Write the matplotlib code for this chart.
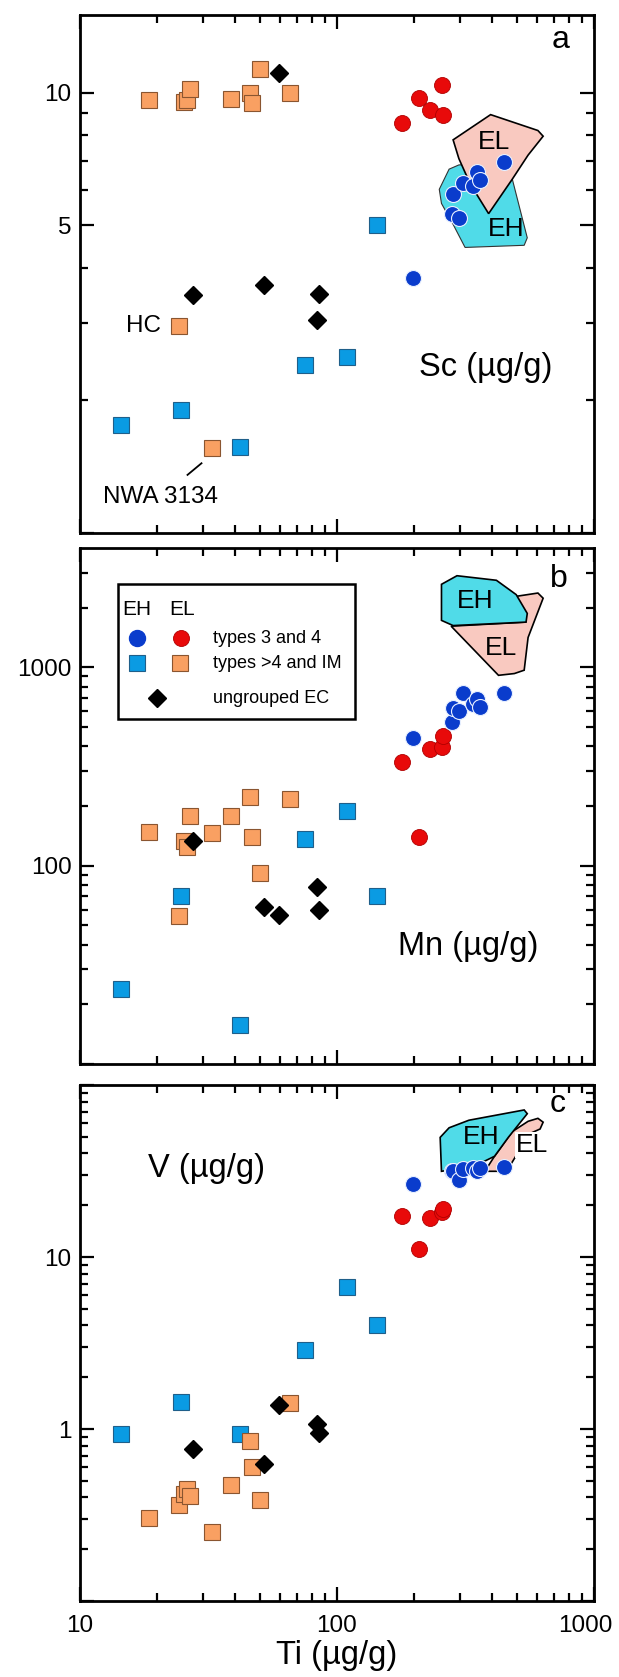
import matplotlib
matplotlib.use("Agg")
import matplotlib.pyplot as plt
from matplotlib.patches import Polygon, Rectangle
from matplotlib.ticker import FixedLocator, NullFormatter, FixedFormatter

plt.rcParams['font.family'] = ['Liberation Sans', 'DejaVu Sans']

# Ti (ug/g) for each group
ti_eh34 = [197, 281, 283, 299, 309, 338, 350, 360, 448]
ti_el34 = [178.6, 208, 230.6, 256.5, 259]
ti_eh4 = [14.5, 24.7, 41.9, 75.3, 108.9, 142.6]
ti_el4 = [18.6, 24.3, 25.5, 26.1, 26.9, 32.7, 38.7, 45.9, 46.8, 50.0, 65.9]
ti_ung = [27.4, 51.8, 59.3, 83.5, 84.9]

# Sc (ug/g)
sc_eh34 = [3.79, 5.31, 5.87, 5.19, 6.24, 6.12, 6.59, 6.33, 6.95]
sc_el34 = [8.55, 9.7, 9.14, 10.4, 8.91]
sc_eh4 = [1.76, 1.90, 1.57, 2.41, 2.51, 5.01]
sc_el4 = [9.61, 2.95, 9.5, 9.6, 10.2, 1.56, 9.65, 9.96, 9.49, 11.3, 9.96]
sc_ung = [3.47, 3.66, 11.1, 3.05, 3.49]

# Mn (ug/g)
mn_eh34 = [441, 533, 626, 601, 745, 657, 691, 630, 739]
mn_el34 = [333, 139, 387, 395, 449]
mn_eh4 = [23.8, 70.6, 15.7, 137, 189, 70.6]
mn_el4 = [148, 55.7, 133, 124, 179, 146, 179, 222, 140, 92, 216]
mn_ung = [133, 62, 56.6, 77.8, 60.1]

# V (ug/g)
v_eh34 = [26.4, 31.5, 31.5, 28.1, 32.3, 32.7, 31.8, 32.7, 33.4]
v_el34 = [17.3, 11.1, 16.9, 18.2, 19.0]
v_eh4 = [0.94, 1.44, 0.935, 2.87, 6.7, 4.04]
v_el4 = [0.303, 0.36, 0.42, 0.45, 0.41, 0.251, 0.472, 0.851, 0.603, 0.388, 1.41]
v_ung = [0.764, 0.627, 1.37, 1.07, 0.95]

# EH / EL fields (Ti, element)
eh_sc = [(250, 6.03), (273, 6.70), (298, 6.85), (390, 6.9), (481, 6.36), (550, 4.68),
         (535, 4.50), (315, 4.45), (283, 5.02), (255, 5.60)]
el_sc = [(283, 7.81), (396, 8.91), (605, 8.20), (634, 7.96), (554, 7.21), (481, 6.36),
         (389, 5.31), (330, 6.2), (298, 7.08)]
eh_mn = [(255, 2624), (293, 2899), (417, 2750), (498, 2328), (550, 1871), (544, 1692),
         (283, 1625), (255, 1726)]
el_mn = [(278, 1614), (425, 912), (490, 931), (535, 968), (554, 1415), (634, 2233),
         (605, 2371), (498, 2282), (544, 1692)]
eh_v = [(252, 49.6), (273, 56.4), (326, 62.4), (535, 71.6), (550, 68.1), (464, 49.6),
        (410, 38.5), (338, 33.4), (255, 31.5)]
el_v = [(410, 38.5), (481, 53.6), (554, 61.5), (605, 64), (634, 60.8), (617, 55.5),
        (560, 52), (481, 35.7), (456, 31.5), (376, 31.5)]

c_eh34 = '#0a3ccc'
c_el34 = '#e80a0a'
c_eh4 = '#0a9be3'
c_el4 = '#f9a062'
c_ehf = '#50dbe8'
c_elf = '#f9c9c0'

fig = plt.figure(figsize=(6.19, 16.77), dpi=100)
left, width = 80 / 619, 514 / 619
ax_a = fig.add_axes([left, 1 - 533 / 1677, width, 518 / 1677])
ax_b = fig.add_axes([left, 1 - 1064 / 1677, width, 516 / 1677])
ax_c = fig.add_axes([left, 1 - 1601 / 1677, width, 516 / 1677])


def scatter_groups(ax, eh34, el34, eh4, el4, ung):
    ax.plot(ti_eh4, eh4, 's', ms=11.5, mfc=c_eh4, mec='#1f5f8a', mew=0.8, ls='none', zorder=4)
    ax.plot(ti_el4, el4, 's', ms=11.5, mfc=c_el4, mec='#8a5530', mew=0.8, ls='none', zorder=4)
    ax.plot(ti_ung, ung, 'D', ms=9, mfc='black', mec='black', ls='none', zorder=5)
    ax.plot(ti_el34, el34, 'o', ms=11.5, mfc=c_el34, mec='#b00000', mew=0.6, ls='none', zorder=5)
    ax.plot(ti_eh34, eh34, 'o', ms=11.5, mfc=c_eh34, mec='#e8f0ff', mew=0.8, ls='none', zorder=6)


def style_axis(ax, ylim, ymajor, yminor, ylabels):
    ax.set_xscale('log')
    ax.set_yscale('log')
    ax.set_xlim(10, 1000)
    ax.set_ylim(*ylim)
    ax.xaxis.set_major_locator(FixedLocator([10, 100, 1000]))
    ax.xaxis.set_minor_locator(FixedLocator([20, 30, 40, 50, 60, 70, 80, 90,
                                             200, 300, 400, 500, 600, 700, 800, 900]))
    ax.xaxis.set_minor_formatter(NullFormatter())
    ax.yaxis.set_major_locator(FixedLocator(ymajor))
    ax.yaxis.set_major_formatter(FixedFormatter(ylabels))
    ax.yaxis.set_minor_locator(FixedLocator(yminor))
    ax.yaxis.set_minor_formatter(NullFormatter())
    ax.tick_params(which='both', direction='in', top=True, right=True, width=1.6)
    ax.tick_params(which='major', length=10, labelsize=17.5, pad=6)
    ax.tick_params(axis='x', which='major', pad=10)
    ax.tick_params(which='minor', length=6)
    for s in ax.spines.values():
        s.set_linewidth(2)


# panel a: Sc
ax = ax_a
ax.add_patch(Polygon(eh_sc, closed=True, fc=c_ehf, ec='#333333', lw=0.8, zorder=1))
ax.add_patch(Polygon(el_sc, closed=True, fc=c_elf, ec='black', lw=1.2, zorder=2))
scatter_groups(ax, sc_eh34, sc_el34, sc_eh4, sc_el4, sc_ung)
style_axis(ax, (1, 15), [1, 5, 10], [2, 3, 4, 6, 7, 8, 9], ['', '5', '10'])
ax.set_xticklabels([])
ax.text(410, 7.74, 'EL', fontsize=19, ha='center', va='center', zorder=3)
ax.text(456, 4.90, 'EH', fontsize=19, ha='center', va='center', zorder=3)
ax.text(380, 2.38, 'Sc (µg/g)', fontsize=23.5, ha='center', va='center')
ax.text(20.7, 2.95, 'HC', fontsize=17.5, ha='right', va='center')
ax.text(20.6, 1.205, 'NWA 3134', fontsize=17.5, ha='center', va='center')
ax.plot([26.2, 29.7], [1.355, 1.44], color='black', lw=1.3)
ax.text(0.934, 0.952, 'a', transform=ax.transAxes, fontsize=23, ha='center', va='center')

# panel b: Mn
ax = ax_b
ax.add_patch(Polygon(el_mn, closed=True, fc=c_elf, ec='black', lw=1.2, zorder=1))
ax.add_patch(Polygon(eh_mn, closed=True, fc=c_ehf, ec='black', lw=1.2, zorder=2))
scatter_groups(ax, mn_eh34, mn_el34, mn_eh4, mn_el4, mn_ung)
style_axis(ax, (10, 4000), [10, 100, 1000], [20, 30, 40, 50, 60, 70, 80, 90,
                                             200, 300, 400, 500, 600, 700, 800, 900,
                                             2000, 3000], ['', '100', '1000'])
ax.set_xticklabels([])
ax.text(344, 2166, 'EH', fontsize=19, ha='center', va='center', zorder=3)
ax.text(435, 1255, 'EL', fontsize=19, ha='center', va='center', zorder=3)
ax.text(325, 39.2, 'Mn (µg/g)', fontsize=23.5, ha='center', va='center')
ax.text(0.932, 0.94, 'b', transform=ax.transAxes, fontsize=23, ha='center', va='center')

# legend box
ax.add_patch(Rectangle((0.074, 0.669), 0.461, 0.261, transform=ax.transAxes,
                       fc='white', ec='black', lw=1.8, zorder=7))
tr = ax.transAxes
ax.text(0.111, 0.881, 'EH', transform=tr, fontsize=15, ha='center', va='center', zorder=8)
ax.text(0.198, 0.881, 'EL', transform=tr, fontsize=15, ha='center', va='center', zorder=8)
ax.plot([0.110], [0.825], 'o', ms=11.5, mfc=c_eh34, mec=c_eh34, transform=tr, zorder=8, clip_on=False)
ax.plot([0.197], [0.825], 'o', ms=11.5, mfc=c_el34, mec='#b00000', mew=0.6, transform=tr, zorder=8, clip_on=False)
ax.plot([0.110], [0.777], 's', ms=11, mfc=c_eh4, mec='#1f5f8a', mew=0.8, transform=tr, zorder=8, clip_on=False)
ax.plot([0.195], [0.777], 's', ms=11, mfc=c_el4, mec='#8a5530', mew=0.8, transform=tr, zorder=8, clip_on=False)
ax.plot([0.150], [0.709], 'D', ms=9, mfc='black', mec='black', transform=tr, zorder=8, clip_on=False)
ax.text(0.259, 0.825, 'types 3 and 4', transform=tr, fontsize=13, ha='left', va='center', zorder=8)
ax.text(0.259, 0.777, 'types >4 and IM', transform=tr, fontsize=13, ha='left', va='center', zorder=8)
ax.text(0.259, 0.709, 'ungrouped EC', transform=tr, fontsize=13, ha='left', va='center', zorder=8)

# panel c: V
ax = ax_c
ax.add_patch(Polygon(el_v, closed=True, fc=c_elf, ec='black', lw=1.2, zorder=1))
ax.add_patch(Polygon(eh_v, closed=True, fc=c_ehf, ec='black', lw=1.2, zorder=2))
scatter_groups(ax, v_eh34, v_el34, v_eh4, v_el4, v_ung)
style_axis(ax, (0.1, 100), [0.1, 1, 10, 100], [0.2, 0.3, 0.4, 0.5, 0.6, 0.7, 0.8, 0.9,
                                               2, 3, 4, 5, 6, 7, 8, 9,
                                               20, 30, 40, 50, 60, 70, 80, 90],
           ['', '1', '10', ''])
# last label is pulled inside the figure edge
ax.set_xticklabels(['10', '100', ''])
ax.annotate('1000', xy=(1000, 0), xycoords=('data', 'axes fraction'),
            xytext=(-6.5, -10), textcoords='offset points',
            ha='center', va='top', fontsize=17.5)
ax.text(0.929, 0.963, 'c', transform=ax.transAxes, fontsize=23, ha='center', va='center')
ax.text(365, 50, 'EH', fontsize=19, ha='center', va='center', zorder=3)
ax.text(574, 44.9, 'EL', fontsize=19, ha='center', va='center', zorder=3,
        bbox=dict(fc='white', ec='none', pad=0.5))
ax.text(31, 32.7, 'V (µg/g)', fontsize=23.5, ha='center', va='center')
ax.set_xlabel('Ti (µg/g)', fontsize=23.5, labelpad=2)

fig.savefig('out.png', dpi=100)
